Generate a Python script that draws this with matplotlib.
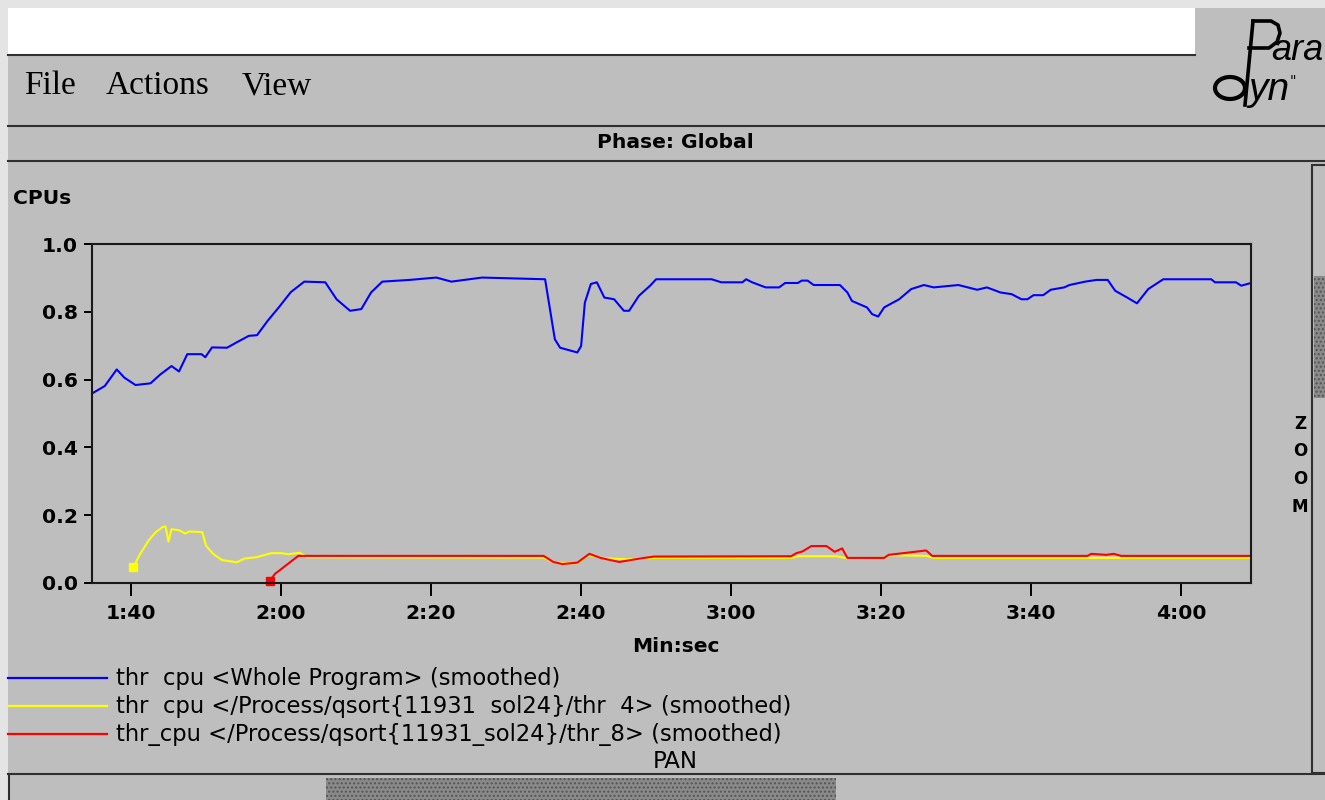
import matplotlib
matplotlib.use("Agg")
import matplotlib.pyplot as plt
from matplotlib.patches import Rectangle, Ellipse
from matplotlib.lines import Line2D
from matplotlib.ticker import FuncFormatter

# time in seconds, value in CPUs
whole_t = [94.8, 96.5, 98.1, 99.1, 100.6, 102.6, 103.9, 105.4, 106.4, 107.5, 109.4,
           109.9, 110.8, 112.8, 114.1, 115.7, 116.8, 118.2, 119.7, 121.3, 123.1,
           125.9, 127.4, 129.2, 130.7, 132.0, 133.5, 137.1, 140.7, 142.7, 146.8,
           155.2, 155.7, 156.5, 157.2, 159.5, 160.0, 160.5, 161.3, 162.1, 163.1,
           164.4, 165.7, 166.4, 167.7, 169.2, 170.0, 177.4, 178.7, 181.5, 182.0,
           182.8, 184.6, 186.4, 187.2, 188.9, 189.4, 190.2, 191.0, 194.5, 195.5,
           196.1, 198.1, 198.8, 199.6, 200.4, 202.4, 204.0, 205.7, 207.0, 210.3,
           212.8, 214.1, 215.9, 217.4, 218.7, 219.5, 220.3, 221.6, 222.6, 224.4,
           225.1, 227.2, 228.7, 230.2, 231.2, 232.8, 234.1, 235.6, 237.6, 244.0,
           244.5, 247.3, 248.0, 249.3]
whole_v = [0.559, 0.581, 0.630, 0.606, 0.584, 0.589, 0.615, 0.640, 0.624, 0.675, 0.675,
           0.666, 0.695, 0.694, 0.710, 0.729, 0.731, 0.773, 0.813, 0.858, 0.889,
           0.887, 0.837, 0.803, 0.808, 0.857, 0.889, 0.894, 0.901, 0.889, 0.901,
           0.896, 0.828, 0.719, 0.694, 0.680, 0.699, 0.827, 0.882, 0.887, 0.842,
           0.837, 0.803, 0.803, 0.847, 0.877, 0.896, 0.896, 0.887, 0.887, 0.896,
           0.887, 0.872, 0.872, 0.885, 0.885, 0.892, 0.892, 0.879, 0.879, 0.857,
           0.832, 0.813, 0.793, 0.786, 0.813, 0.837, 0.867, 0.879, 0.872, 0.879,
           0.865, 0.872, 0.857, 0.852, 0.837, 0.837, 0.849, 0.849, 0.865, 0.872,
           0.879, 0.889, 0.894, 0.894, 0.862, 0.842, 0.825, 0.867, 0.896, 0.896,
           0.887, 0.887, 0.877, 0.885]

thr4_t = [100.3, 101.2, 102.4, 103.3, 104.2, 104.6, 105.0, 105.4, 106.5, 107.2, 107.8,
          109.5, 110.0, 111.0, 112.1, 114.1, 115.1, 116.7, 118.7, 120.0, 121.0,
          122.5, 123.5, 155.0, 156.5, 159.5, 161.0, 163.0, 166.0, 170.0, 188.0,
          189.0, 194.0, 195.5, 200.5, 201.0, 206.0, 207.0, 249.3]
thr4_v = [0.046, 0.085, 0.127, 0.150, 0.165, 0.167, 0.122, 0.159, 0.155, 0.146, 0.152,
          0.150, 0.110, 0.085, 0.068, 0.061, 0.072, 0.076, 0.088, 0.088, 0.085,
          0.089, 0.076, 0.075, 0.060, 0.058, 0.082, 0.073, 0.070, 0.074, 0.074,
          0.079, 0.079, 0.073, 0.074, 0.082, 0.080, 0.074, 0.074]

thr8_t = [118.5, 119.2, 122.3, 155.0, 156.3, 157.5, 159.5, 161.1, 162.6, 165.1, 167.2,
          169.7, 188.0, 188.7, 189.5, 190.7, 192.7, 193.8, 194.8, 195.5, 200.4,
          201.0, 203.7, 206.0, 206.8, 227.5, 228.0, 230.0, 231.0, 232.0, 249.3]
thr8_v = [0.007, 0.027, 0.080, 0.080, 0.062, 0.056, 0.060, 0.086, 0.074, 0.062, 0.070,
          0.078, 0.079, 0.088, 0.093, 0.109, 0.109, 0.092, 0.102, 0.074, 0.074,
          0.083, 0.090, 0.096, 0.080, 0.080, 0.086, 0.083, 0.086, 0.080, 0.080]

labels = ["thr  cpu <Whole Program> (smoothed)",
          "thr  cpu </Process/qsort{11931  sol24}/thr  4> (smoothed)",
          "thr_cpu </Process/qsort{11931_sol24}/thr_8> (smoothed)"]
colors = ["#0000ff", "#ffff00", "#ff0000"]
xticks = [100, 120, 140, 160, 180, 200, 220, 240]
yticks = [0.0, 0.2, 0.4, 0.6, 0.8, 1.0]

W, H = 1325, 800
GRAY = "#bebebe"
DARK = "#303030"


def fx(x):
    return x / W


def fy(y):
    return 1 - y / H


def rect(x0, y0, x1, y1, **kw):
    kw.setdefault("zorder", 0.5)
    fig.add_artist(Rectangle((fx(x0), fy(y1)), (x1 - x0) / W, (y1 - y0) / H,
                             transform=fig.transFigure, **kw))


def poly(xs, ys, **kw):
    kw.setdefault("color", DARK)
    kw.setdefault("lw", 1.5)
    kw.setdefault("zorder", 0.6)
    fig.add_artist(Line2D([fx(x) for x in xs], [fy(y) for y in ys],
                          transform=fig.transFigure, **kw))


def line(x0, y0, x1, y1, **kw):
    poly([x0, x1], [y0, y1], **kw)


def label(x, y, s, **kw):
    kw.setdefault("fontsize", 14.6)
    kw.setdefault("fontweight", "bold")
    kw.setdefault("family", "DejaVu Sans")
    kw.setdefault("color", "black")
    fig.text(fx(x), fy(y), s, **kw)


fig = plt.figure(figsize=(W / 100, H / 100), dpi=100, facecolor="#e4e4e4")

# window chrome
rect(8, 8, W, H, facecolor=GRAY, edgecolor="none")
rect(8, 8, 1195, 54, facecolor="white", edgecolor="none")
line(8, 55, 1195, 55)
line(8, 126, W, 126)
line(8, 161, W, 161)

# menu bar
for word, x in [("File", 24), ("Actions", 106), ("View", 242)]:
    label(x, 86, word, family="Liberation Serif", fontweight="normal", fontsize=24,
          va="center", ha="left")

# logo: tall italic P whose stem doubles as the stem of the d
poly([1253, 1245], [21, 105], color="black", lw=2.6, zorder=3)
poly([1253, 1271, 1278, 1280, 1277, 1269, 1249], [21, 21, 25, 33, 42, 48, 48],
     color="black", lw=2.6, zorder=3)
fig.add_artist(Ellipse((fx(1230), fy(88)), 30 / W, 22 / H, transform=fig.transFigure,
                       facecolor="none", edgecolor="black", lw=3, zorder=3))
label(1271, 60, "ara", family="Liberation Sans", fontweight="normal", style="italic",
      fontsize=26, ha="left", va="baseline")
label(1248, 100, "yn", family="Liberation Sans", fontweight="normal", style="italic",
      fontsize=28, ha="left", va="baseline")
label(1290, 74, "\"", family="DejaVu Sans", fontweight="normal", fontsize=10,
      ha="left", va="top")

label(675, 143, "Phase: Global", ha="center", va="center")

# right zoom scrollbar
rect(1312, 165, W + 5, 773, facecolor=GRAY, edgecolor=DARK, lw=1.5)
rect(1314, 276, W, 398, facecolor="#8a8a8a", edgecolor="#555555", hatch="....", lw=0,
     zorder=0.7)
for i, ch in enumerate("ZOOM"):
    label(1300, 424 + i * 27.5, ch, ha="center", va="center", fontsize=12)

# bottom pan scrollbar
line(8, 774, W, 774)
line(9, 774, 9, H)
rect(326, 778, 836, H, facecolor="#8a8a8a", edgecolor="#555555", hatch="....", lw=0,
     zorder=0.7)
label(675, 762, "PAN", ha="center", va="center", fontweight="normal", fontsize=16.5)

# plot
ax = fig.add_axes([fx(92), fy(583), (1251 - 92) / W, (583 - 244) / H])
ax.set_zorder(2)
ax.set_facecolor(GRAY)

l1, = ax.plot(whole_t, whole_v, color=colors[0], lw=1.5)
l2, = ax.plot(thr4_t, thr4_v, color=colors[1], lw=1.5)
l3, = ax.plot(thr8_t, thr8_v, color=colors[2], lw=1.5)
ax.plot(thr4_t[0], thr4_v[0], "s", color=colors[1], ms=6, clip_on=False)
ax.plot(thr8_t[0], thr8_v[0], "s", color=colors[2], ms=6, clip_on=False)

ax.set_xlim(94.8, 249.3)
ax.set_ylim(0, 1.0)
ax.set_xticks(xticks)
ax.set_yticks(yticks)
ax.xaxis.set_major_formatter(FuncFormatter(lambda v, p: f"{int(v) // 60}:{int(v) % 60:02d}"))
ax.yaxis.set_major_formatter(FuncFormatter(lambda v, p: f"{v:.1f}"))
ax.tick_params(axis="x", direction="out", length=9, width=1.4, pad=6, labelsize=14.6)
ax.tick_params(axis="y", direction="out", length=6, width=1.4, pad=4, labelsize=14.6)
for t in ax.get_xticklabels() + ax.get_yticklabels():
    t.set_fontweight("bold")
for s in ax.spines.values():
    s.set_linewidth(1.5)
    s.set_color("#1a1a1a")

label(13, 198, "CPUs", ha="left", va="center")
label(676, 647, "Min:sec", ha="center", va="center")

# legend
for i, (ln, txt) in enumerate(zip([l1, l2, l3], labels)):
    y = 678 + i * 28
    line(8, y, 107, y, color=ln.get_color(), lw=1.6, zorder=3)
    label(116, y + 1, txt, ha="left", va="center", fontweight="normal", fontsize=16.3)

fig.savefig("out.png", dpi=100, facecolor=fig.get_facecolor())
